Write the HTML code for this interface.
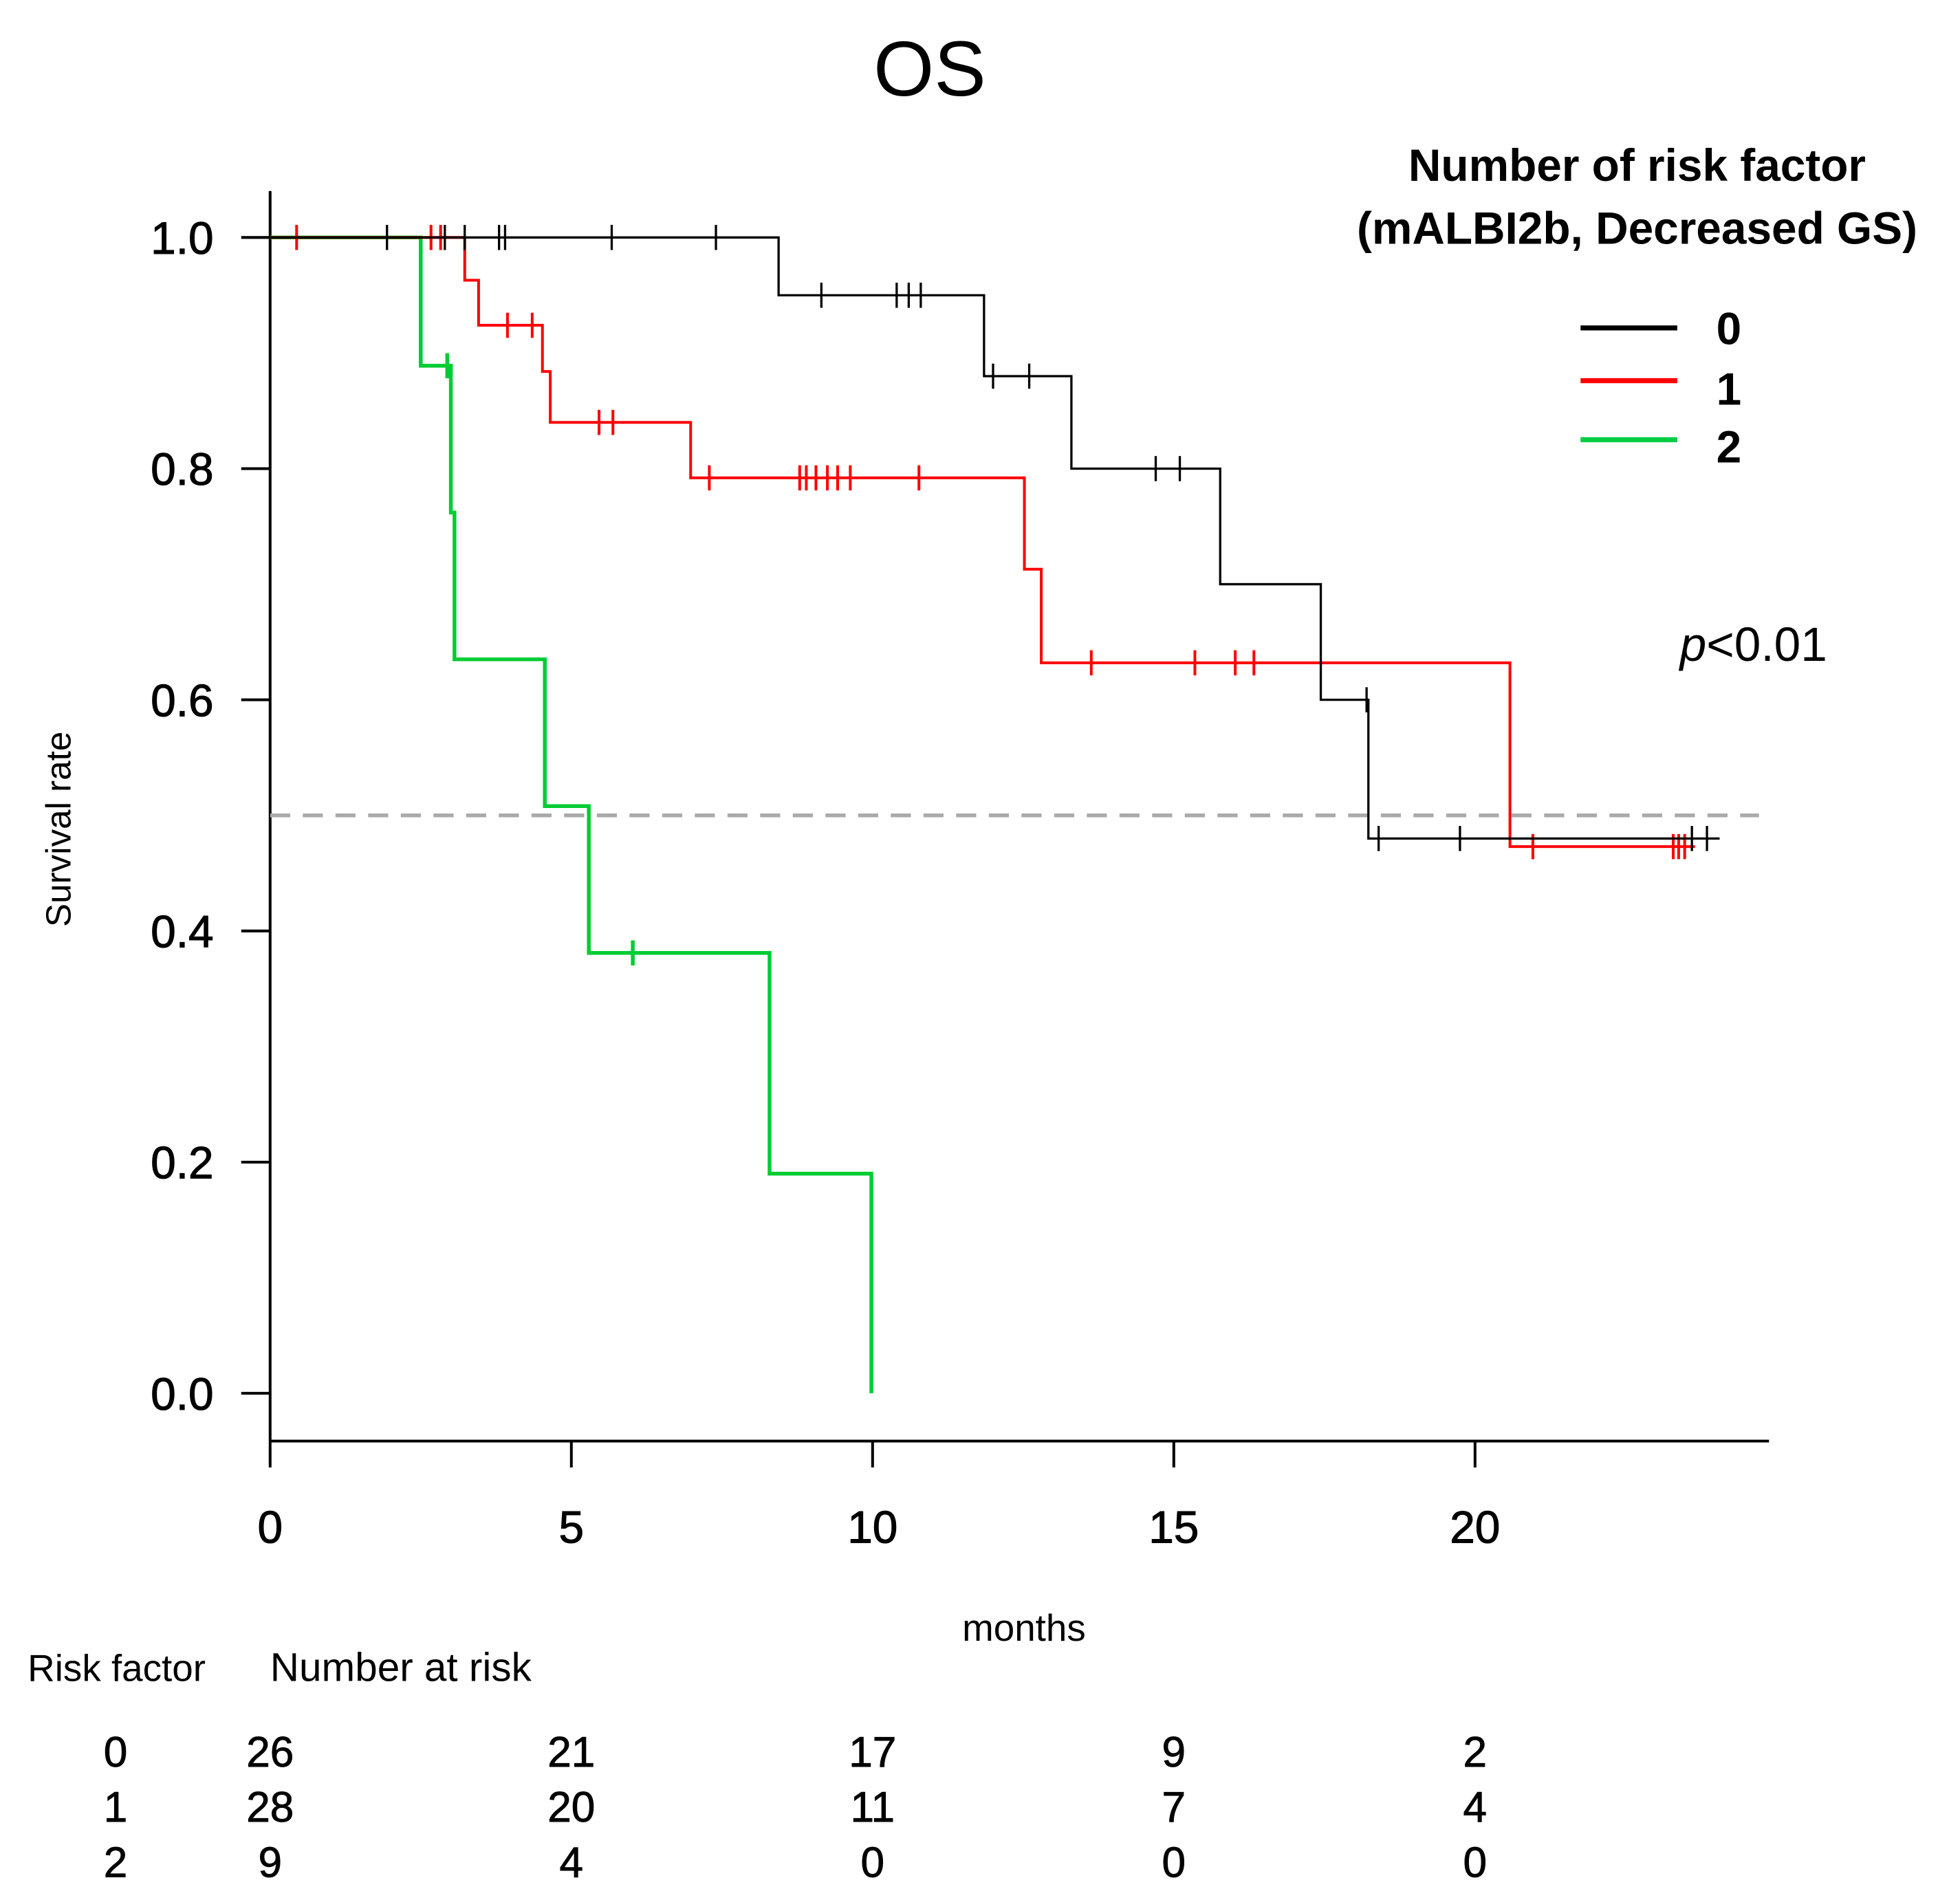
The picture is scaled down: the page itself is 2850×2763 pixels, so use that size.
<!DOCTYPE html>
<html><head><meta charset="utf-8">
<style>
html,body{margin:0;padding:0;background:#fff;}
svg{display:block;}
text{font-family:"Liberation Sans",Arial,sans-serif;}
</style></head>
<body>
<svg id="chart" width="2850" height="2763" viewBox="0 0 1560 1512.3" preserveAspectRatio="none" xmlns="http://www.w3.org/2000/svg">
<text x="740" y="76" font-size="62" text-anchor="middle">OS</text>
<g id="axes"></g>
<g id="curves"></g>
<text transform="translate(56,660) rotate(-90)" font-size="28" text-anchor="middle">Survival rate</text>
<text x="815" y="1306" font-size="30" text-anchor="middle">months</text>
<text x="1303" y="144" font-size="36" font-weight="bold" text-anchor="middle">Number of risk factor</text>
<text x="1303" y="194" font-size="36" font-weight="bold" text-anchor="middle">(mALBI2b, Decreased GS)</text>
<g><line x1="1258" x2="1335" y1="261" y2="261" stroke="#000" stroke-width="4"/><text x="1366" y="274" font-size="36" font-weight="bold">0</text></g>
<g><line x1="1258" x2="1335" y1="303" y2="303" stroke="#ff0000" stroke-width="4"/><text x="1366" y="322" font-size="36" font-weight="bold">1</text></g>
<g><line x1="1258" x2="1335" y1="350" y2="350" stroke="#00cc44" stroke-width="4"/><text x="1366" y="368" font-size="36" font-weight="bold">2</text></g>
<text x="1337" y="526" font-size="38"><tspan font-style="italic">p</tspan>&lt;0.01</text>
<text x="22" y="1338" font-size="30">Risk factor</text>
<text x="215" y="1338" font-size="32">Number at risk</text>
<g id="risktable"></g>
</svg>
<script>
const xTicks = [0, 5, 10, 15, 20];
const yTicks = [0.0, 0.2, 0.4, 0.6, 0.8, 1.0];
const yTickLabels = ["0.0", "0.2", "0.4", "0.6", "0.8", "1.0"];
const t0 = [0, 8.44, 11.85, 13.3, 15.77, 17.44, 18.23, 24.06];
const s0 = [1.0, 0.95, 0.88, 0.80, 0.70, 0.60, 0.48, 0.48];
const c0t = [1.94, 2.9, 3.23, 3.8, 3.9, 5.67, 7.4, 9.15, 10.4, 10.6, 10.8, 12.0, 12.6, 14.7, 15.1, 18.2, 18.4, 19.75, 23.6, 23.85];
const t1 = [0, 3.23, 3.46, 4.52, 4.65, 6.98, 12.52, 12.8, 20.58, 23.65];
const s1 = [1.0, 0.963, 0.924, 0.884, 0.840, 0.792, 0.713, 0.632, 0.473, 0.473];
const c1t = [0.44, 2.67, 2.83, 3.94, 4.35, 5.46, 5.69, 7.29, 8.79, 8.9, 9.06, 9.25, 9.42, 9.63, 10.77, 13.63, 15.35, 16.02, 16.33, 20.96, 23.29, 23.38, 23.48];
const t2 = [0, 2.5, 3.0, 3.06, 4.56, 5.29, 8.29, 9.98];
const s2 = [1.0, 0.889, 0.762, 0.635, 0.508, 0.381, 0.190, 0.0];
const c2t = [2.94, 6.02];
const riskGroups = ["0", "1", "2"];
const risk0 = [26, 21, 17, 9, 2];
const risk1 = [28, 20, 11, 7, 4];
const risk2 = [9, 4, 0, 0, 0];

const X = m => 215 + m * 47.95;
const Y = v => 1109 - v * 920;
const NS = "http://www.w3.org/2000/svg";
function mk(tag, attrs, parent) {
  const e = document.createElementNS(NS, tag);
  for (const k in attrs) e.setAttribute(k, attrs[k]);
  parent.appendChild(e);
  return e;
}
const axes = document.getElementById('axes');
let l = mk('line', {x1: 215, x2: 215, y1: 152, y2: 1147, stroke: '#000', 'stroke-width': 2.2}, axes);


l = mk('line', {x1: 215, x2: 1408, y1: 1147, y2: 1147, stroke: '#000', 'stroke-width': 2.2}, axes);


yTicks.forEach((v, i) => {
  const t = mk('line', {x1: 192, x2: 215, y1: Y(v), y2: Y(v), stroke: '#000', 'stroke-width': 2.2}, axes);
  
  
  const tx = mk('text', {x: 170, y: Y(v) + 13, 'font-size': 36, 'text-anchor': 'end', stroke: '#000', 'stroke-width': 0.6}, axes);
  tx.textContent = yTickLabels[i];
  
  
});
xTicks.forEach(m => {
  const t = mk('line', {x1: X(m), x2: X(m), y1: 1147, y2: 1168, stroke: '#000', 'stroke-width': 2.2}, axes);
  
  
  const tx = mk('text', {x: X(m), y: 1228, 'font-size': 36, 'text-anchor': 'middle', stroke: '#000', 'stroke-width': 0.6}, axes);
  tx.textContent = m;
  
  
});
const med = mk('line', {x1: 215, x2: 1400, y1: Y(0.5), y2: Y(0.5), stroke: '#aaa', 'stroke-width': 3, 'stroke-dasharray': '16,10'}, axes);



const curves = document.getElementById('curves');
function survAt(t, s, x) { let v = s[0]; for (let i = 0; i < t.length; i++) if (t[i] <= x) v = s[i]; return v; }
function drawCurve(t, s, ct, color, w, name) {
  let d = 'M' + X(t[0]) + ',' + Y(s[0]);
  for (let i = 1; i < t.length; i++) {
    d += ' H' + X(t[i]) + ' V' + Y(s[i]);
  }
  const p = mk('path', {d: d, fill: 'none', stroke: color, 'stroke-width': w}, curves);
  
  
  ct.forEach(c => {
    const y = Y(survAt(t, s, c));
    const m = mk('line', {x1: X(c), x2: X(c), y1: y - 10, y2: y + 10, stroke: color, 'stroke-width': w}, curves);
    
    
  });
}
drawCurve(t2, s2, c2t, '#00cc33', 3, 'group-2');
drawCurve(t1, s1, c1t, '#ff0000', 2.2, 'group-1');
drawCurve(t0, s0, c0t, '#000', 1.8, 'group-0');

const rt = document.getElementById('risktable');
const rows = [risk0, risk1, risk2];
const rowY = [1406, 1450, 1494];
rows.forEach((r, i) => {
  const g = mk('text', {x: 92, y: rowY[i], 'font-size': 34, 'text-anchor': 'middle', stroke: '#000', 'stroke-width': 0.5}, rt);
  g.textContent = riskGroups[i];
  
  
  r.forEach((n, j) => {
    const tx = mk('text', {x: X(xTicks[j]), y: rowY[i], 'font-size': 34, 'text-anchor': 'middle', stroke: '#000', 'stroke-width': 0.5}, rt);
    tx.textContent = n;
    
    
  });
});
</script>
</body></html>
